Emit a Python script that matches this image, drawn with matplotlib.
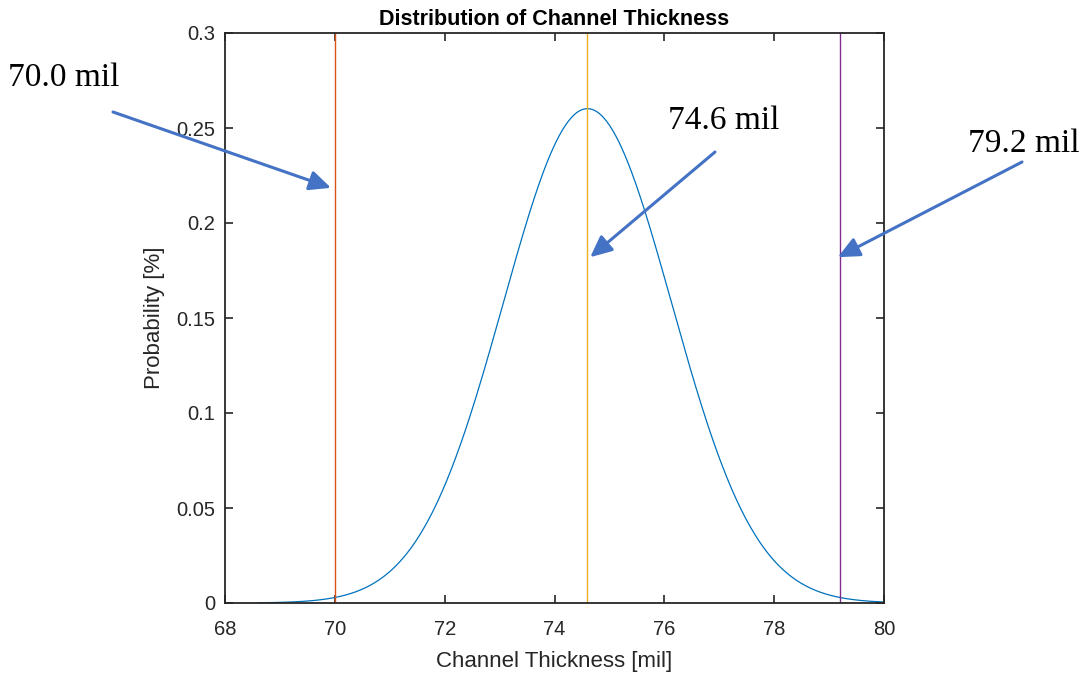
import numpy as np
import matplotlib.pyplot as plt

# channel thickness spec, mil
lower_limit = 70.0
nominal = 74.6
upper_limit = 79.2
x_start, x_end = 68.6, 80.0

limit_values = [lower_limit, nominal, upper_limit]
limit_labels = ["70.0 mil", "74.6 mil", "79.2 mil"]
limit_colors = ["#D95319", "#EDB120", "#7E2F8E"]

x_ticks = [68, 70, 72, 74, 76, 78, 80]
y_ticks = [0, 0.05, 0.1, 0.15, 0.2, 0.25, 0.3]
y_tick_labels = ["0", "0.05", "0.1", "0.15", "0.2", "0.25", "0.3"]

# limits sit at +/- 3 sigma around the nominal
sigma = (upper_limit - lower_limit) / 6
x = np.linspace(x_start, x_end, 400)
pdf = np.exp(-0.5 * ((x - nominal) / sigma) ** 2) / (sigma * np.sqrt(2 * np.pi))

plt.rcParams["font.family"] = ["Liberation Sans", "DejaVu Sans"]

fig = plt.figure(figsize=(10.8, 6.74), dpi=100)
ax = fig.add_axes([225 / 1080, 71 / 674, 659 / 1080, 570 / 674])

ax.plot(x, pdf, color="#0072BD", lw=0.9)
for val, col in zip(limit_values, limit_colors):
    ax.axvline(val, color=col, lw=1.0)

ax.set_xlim(68, 80)
ax.set_ylim(0, 0.3)
ax.set_xticks(x_ticks)
ax.set_yticks(y_ticks)
ax.set_yticklabels(y_tick_labels)
ax.tick_params(direction="in", top=True, right=True, length=6, width=1.2,
               labelsize=14.5, colors="#262626", pad=7)
ax.tick_params(axis="x", pad=12)
for s in ax.spines.values():
    s.set_linewidth(1.3)
    s.set_color("#262626")

ax.set_xlabel("Channel Thickness [mil]", fontsize=16, color="#262626",
              labelpad=9)
ax.set_ylabel("Probability [%]", fontsize=16, color="#262626", labelpad=8)
ax.set_title("Distribution of Channel Thickness", fontsize=15.5,
             fontweight="bold", pad=6)

# arrows: tail in figure pixels, head in data coords
arrow_tails = [(113, 674 - 112), (715, 674 - 152), (1022, 674 - 162)]
arrow_heads = [(69.93, 0.2185), (74.65, 0.182), (79.16, 0.182)]
text_pos = [(8, 674 - 78), (668, 674 - 121), (968, 674 - 144)]

for tail, head, tp, lab in zip(arrow_tails, arrow_heads, text_pos, limit_labels):
    ax.annotate("", xy=head, xycoords="data", xytext=tail,
                textcoords="figure pixels", annotation_clip=False,
                arrowprops=dict(arrowstyle="-|>,head_length=0.65,head_width=0.3",
                                mutation_scale=20, color="#4472C4", lw=2.2,
                                shrinkA=0, shrinkB=0))
    fig.text(tp[0] / 1080, tp[1] / 674, lab, fontsize=24,
             family="Liberation Serif", va="center", ha="left")

fig.savefig("out.png", dpi=100)
